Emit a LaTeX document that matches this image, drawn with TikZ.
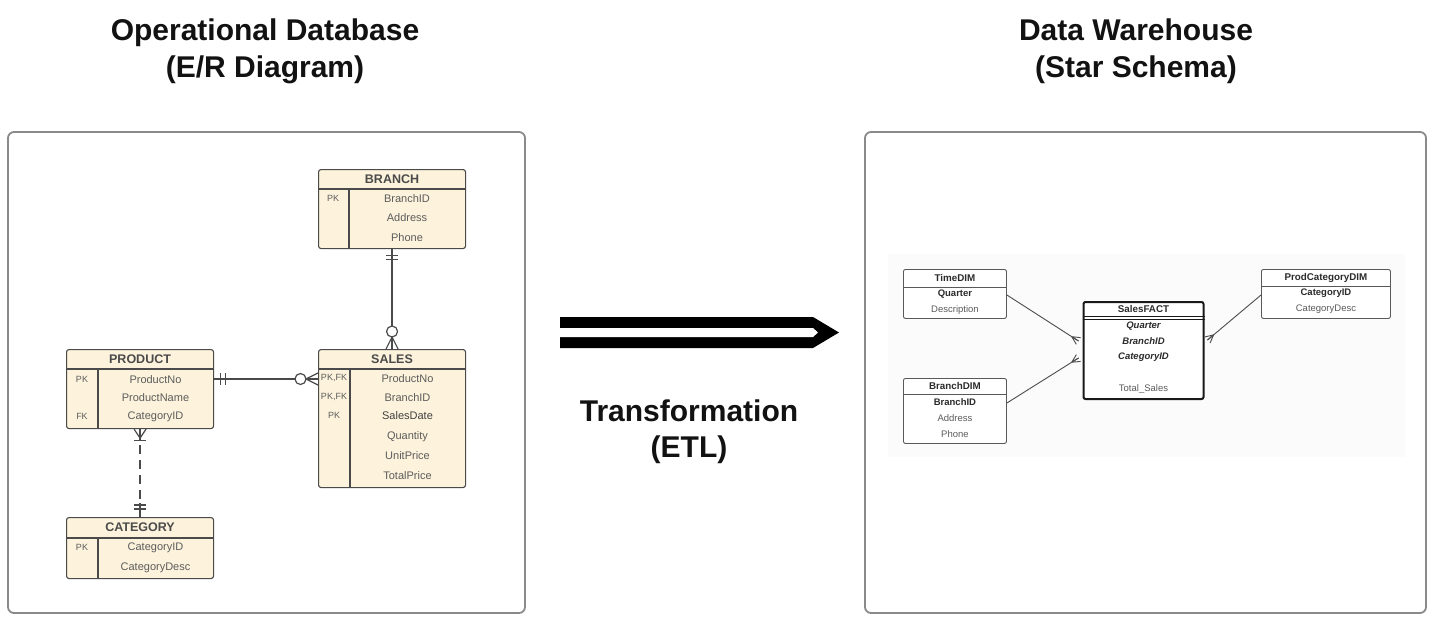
\documentclass[tikz,border=0pt]{standalone}
\usepackage{fontspec}
\setmainfont{Liberation Sans}
\usetikzlibrary{calc}
\definecolor{cream}{HTML}{FDF3DC}
\definecolor{erline}{HTML}{4A4A4A}
\definecolor{framec}{HTML}{8A8A8A}
\definecolor{txt}{HTML}{5C5C5C}
\definecolor{dark}{HTML}{2B2B2B}
\newcommand\mkbar[4]{\path ($(#2)!#4!(#3)$) coordinate (mkt);
  \draw[#1] ($(mkt)!6pt!90:(#3)$) -- ($(mkt)!6pt!-90:(#3)$);}
\newcommand\mkcrow[5]{\path ($(#2)!#4!(#3)$) coordinate (mkc);
  \draw[#1] ($(#2)!#5!90:(#3)$) -- (mkc) -- ($(#2)!#5!-90:(#3)$) (mkc) -- (#2);}
\newcommand\mkring[4]{\draw[#1,fill=white] ($(#2)!#4!(#3)$) circle[radius=5.5pt];}
\tikzset{
  title/.style={font=\fontsize{30}{32}\selectfont\bfseries, text=black!93, anchor=base, inner sep=0},
  framebox/.style={draw=framec, line width=1.8pt, rounded corners=6pt},
  ertbl/.style={draw=erline, fill=cream, line width=1.1pt, rounded corners=2.5pt, anchor=north west, inner sep=0},
  erdiv/.style={draw=erline, line width=1.1pt},
  erhead/.style={font=\fontsize{12.5}{14}\selectfont\bfseries, text=dark!85, inner sep=0},
  erfld/.style={font=\fontsize{11}{13}\selectfont, text=txt, inner sep=0},
  erkey/.style={font=\fontsize{9}{10}\selectfont, text=txt, inner sep=0},
  conn/.style={draw=erline, line width=1.2pt},
  stbl/.style={draw=black!65, fill=white, line width=0.9pt, rounded corners=2pt, anchor=north west, inner sep=0},
  sdiv/.style={draw=black!65, line width=0.9pt},
  shead/.style={font=\fontsize{9.8}{11}\selectfont\bfseries, text=dark, inner sep=0},
  sfld/.style={font=\fontsize{9.5}{11}\selectfont, text=txt, inner sep=0},
  skey/.style={font=\fontsize{9.5}{11}\selectfont\bfseries, text=dark, inner sep=0},
  sfk/.style={font=\fontsize{9.5}{11}\selectfont\bfseries\itshape, text=dark, inner sep=0},
  sconn/.style={draw=black!70, line width=0.9pt},
}
\begin{document}
\begin{tikzpicture}[x=1pt,y=-1pt]
\useasboundingbox (0,0) rectangle (1430,619);
\fill[white] (0,0) rectangle (1430,619);

% titles
\node[title] (t1) at (265,40) {Operational Database};
\node[title] (t2) at (265,77) {(E/R Diagram)};
\node[title] (t3) at (1136,40) {Data Warehouse};
\node[title] (t4) at (1136,77) {(Star Schema)};
\node[title] (t5) at (689,421) {Transformation};
\node[title] (t6) at (689,457) {(ETL)};

% frames
\draw[framebox] (8,132) rectangle (525,613);
\draw[framebox] (865,132) rectangle (1426,613);
\fill[black!1.5] (888,254) rectangle (1405,457);

% big arrow
\fill[black] (560,317) -- (813,317) -- (839,332.5) -- (813,348) -- (560,348) -- cycle;
\fill[white] (560,328) -- (813,328) -- (818,332.5) -- (813,337) -- (560,337) -- cycle;

% ===== ER tables =====
% BRANCH
\node[ertbl, minimum width=147pt, minimum height=79pt] (branch) at (318,169) {};
\draw[erdiv] ($(branch.north west)+(0,20)$) -- ($(branch.north east)+(0,20)$);
\draw[erdiv] ($(branch.north west)+(31,20)$) -- ($(branch.south west)+(31,0)$);
\node[erhead] (bh) at ($(branch.north)+(0,10)$) {BRANCH};
\node[erkey] (bk1) at (333,198) {PK};
\node[erfld] (bf1) at (407,198.5) {BranchID};
\node[erfld] (bf2) at (407,217.5) {Address};
\node[erfld] (bf3) at (407,237.5) {Phone};

% PRODUCT
\node[ertbl, minimum width=147pt, minimum height=79pt] (product) at (66,349) {};
\draw[erdiv, line width=1.6pt] ($(product.north west)+(0,20)$) -- ($(product.north east)+(0,20)$);
\draw[erdiv] ($(product.north west)+(32,20)$) -- ($(product.south west)+(32,0)$);
\node[erhead] (ph) at ($(product.north)+(0,10)$) {PRODUCT};
\node[erkey] (pk1) at (82,379) {PK};
\node[erkey] (pk3) at (82,416) {FK};
\node[erfld] (pf1) at (155.5,379.5) {ProductNo};
\node[erfld] (pf2) at (155.5,397.5) {ProductName};
\node[erfld] (pf3) at (155.5,416.5) {CategoryID};

% SALES
\node[ertbl, minimum width=147pt, minimum height=138pt] (sales) at (318,349) {};
\draw[erdiv, line width=1.6pt] ($(sales.north west)+(0,20)$) -- ($(sales.north east)+(0,20)$);
\draw[erdiv] ($(sales.north west)+(32,20)$) -- ($(sales.south west)+(32,0)$);
\node[erhead] (sh) at ($(sales.north)+(0,10)$) {SALES};
\node[erkey] (sk1) at (334,378) {PK,FK};
\node[erkey] (sk2) at (334,397) {PK,FK};
\node[erkey] (sk3) at (334,415) {PK};
\node[erfld] (sf1) at (407.5,378.5) {ProductNo};
\node[erfld] (sf2) at (407.5,397.5) {BranchID};
\node[erfld, text=dark!90] (sf3) at (407.5,415.5) {SalesDate};
\node[erfld] (sf4) at (407.5,436.5) {Quantity};
\node[erfld] (sf5) at (407.5,455.5) {UnitPrice};
\node[erfld] (sf6) at (407.5,475.5) {TotalPrice};

% CATEGORY
\node[ertbl, minimum width=147pt, minimum height=61pt] (category) at (66,517) {};
\draw[erdiv] ($(category.north west)+(0,21)$) -- ($(category.north east)+(0,21)$);
\draw[erdiv] ($(category.north west)+(32,21)$) -- ($(category.south west)+(32,0)$);
\node[erhead] (ch) at ($(category.north)+(0,10.5)$) {CATEGORY};
\node[erkey] (ck1) at (82,547) {PK};
\node[erfld] (cf1) at (155.5,547.5) {CategoryID};
\node[erfld] (cf2) at (155.5,567.5) {CategoryDesc};

% ===== ER connectors =====
% BRANCH -- SALES
\coordinate (bS) at (branch.south);
\coordinate (sN) at (sales.north);
\draw[conn] (bS) -- (sN);
\mkbar{conn}{bS}{sN}{6pt}
\mkbar{conn}{bS}{sN}{10pt}
\mkring{conn}{sN}{bS}{17.5pt}
\mkcrow{conn}{sN}{bS}{12pt}{6pt}

% PRODUCT -- SALES
\coordinate (pE) at ($(product.north east)+(0,30)$);
\coordinate (sW) at ($(sales.north west)+(0,30)$);
\draw[conn] (pE) -- (sW);
\mkbar{conn}{pE}{sW}{6pt}
\mkbar{conn}{pE}{sW}{11pt}
\mkring{conn}{sW}{pE}{17.5pt}
\mkcrow{conn}{sW}{pE}{12pt}{6pt}

% PRODUCT -- CATEGORY (dashed)
\coordinate (pS) at (product.south);
\coordinate (cN) at (category.north);
\draw[conn, dash pattern=on 9pt off 6pt, dash phase=-4pt] ($(pS)+(0,12)$) -- ($(cN)+(0,-14)$);
\draw[conn] (pS) -- ($(pS)+(0,12)$);
\draw[conn] (cN) -- ($(cN)+(0,-14)$);
\mkcrow{conn}{pS}{cN}{9pt}{6pt}
\mkbar{conn}{pS}{cN}{11pt}
\mkbar{conn}{cN}{pS}{8pt}
\mkbar{conn}{cN}{pS}{12pt}

% ===== Star schema =====
% TimeDIM
\node[stbl, minimum width=103pt, minimum height=49pt] (timed) at (903,269) {};
\draw[sdiv] ($(timed.north west)+(0,18)$) -- ($(timed.north east)+(0,18)$);
\node[shead] (th) at ($(timed.north)+(0,9)$) {TimeDIM};
\node[skey] (tf1) at ($(timed.north)+(0,25)$) {Quarter};
\node[sfld] (tf2) at ($(timed.north)+(0,41)$) {Description};

% BranchDIM
\node[stbl, minimum width=103pt, minimum height=65pt] (branchd) at (903,378) {};
\draw[sdiv] ($(branchd.north west)+(0,16)$) -- ($(branchd.north east)+(0,16)$);
\node[shead] (bdh) at ($(branchd.north)+(0,8)$) {BranchDIM};
\node[skey] (bdf1) at ($(branchd.north)+(0,24)$) {BranchID};
\node[sfld] (bdf2) at ($(branchd.north)+(0,40)$) {Address};
\node[sfld] (bdf3) at ($(branchd.north)+(0,56)$) {Phone};

% SalesFACT
\node[stbl, draw=black!90, line width=2pt, minimum width=120pt, minimum height=97pt] (fact) at (1082.5,301) {};
\draw[sdiv, draw=black!90, line width=1pt] ($(fact.north west)+(0,15.5)$) -- ($(fact.north east)+(0,15.5)$);
\draw[sdiv, draw=black!90, line width=1pt] ($(fact.north west)+(0,18)$) -- ($(fact.north east)+(0,18)$);
\node[shead] (fh) at ($(fact.north)+(0,8)$) {SalesFACT};
\node[sfk] (ff1) at ($(fact.north)+(0,25)$) {Quarter};
\node[sfk] (ff2) at ($(fact.north)+(0,40.5)$) {BranchID};
\node[sfk] (ff3) at ($(fact.north)+(0,56.5)$) {CategoryID};
\node[sfld] (ff4) at ($(fact.north)+(0,88)$) {Total\_Sales};

% ProdCategoryDIM
\node[stbl, minimum width=129pt, minimum height=49pt] (pcatd) at (1261,269) {};
\draw[sdiv] ($(pcatd.north west)+(0,17)$) -- ($(pcatd.north east)+(0,17)$);
\node[shead] (pch) at ($(pcatd.north)+(0,8.5)$) {ProdCategoryDIM};
\node[skey] (pcf1) at ($(pcatd.north)+(0,24.5)$) {CategoryID};
\node[sfld] (pcf2) at ($(pcatd.north)+(0,40.5)$) {CategoryDesc};

% star connectors
\coordinate (tE) at ($(timed.north east)+(0,26)$);
\coordinate (fW1) at ($(fact.north west)+(-4,40)$);
\draw[sconn] (tE) -- (fW1);
\mkcrow{sconn}{fW1}{tE}{8pt}{4pt}

\coordinate (bdE) at ($(branchd.north east)+(0,25)$);
\coordinate (fW2) at ($(fact.north west)+(-4,57)$);
\draw[sconn] (bdE) -- (fW2);
\mkcrow{sconn}{fW2}{bdE}{8pt}{4pt}

\coordinate (pcW) at ($(pcatd.north west)+(0,26)$);
\coordinate (fE) at ($(fact.north east)+(3,39)$);
\draw[sconn] (pcW) -- (fE);
\mkcrow{sconn}{fE}{pcW}{8pt}{4pt}
\end{tikzpicture}
\end{document}
